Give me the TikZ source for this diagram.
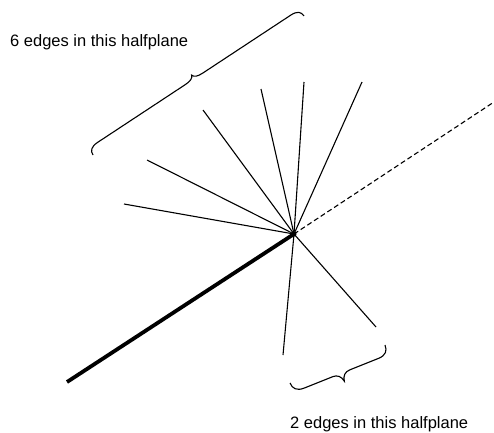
\documentclass[tikz,border=0pt]{standalone}
\usepackage{fontspec}
\setmainfont{Liberation Sans}
\begin{document}
\begin{tikzpicture}[x=1pt,y=1pt,
  edge/.style={line width=1.1pt},
  thickedge/.style={line width=3.8pt},
  dashedge/.style={line width=1.1pt, dash pattern=on 5pt off 3pt},
  bracepath/.style={line width=1.1pt},
  label/.style={font=\fontsize{16.5}{19}\selectfont, inner sep=0pt, anchor=base west}]
\useasboundingbox (0,0) rectangle (494,-432);
\node[circle, fill, inner sep=0pt, minimum size=5pt] (v) at (294,-234) {};
% upper halfplane edges
\coordinate (e1) at (124,-204);
\coordinate (e2) at (147,-160);
\coordinate (e3) at (203,-110);
\coordinate (e4) at (261,-89);
\coordinate (e5) at (304,-82);
\coordinate (e6) at (362,-82);
% lower halfplane edges
\coordinate (l1) at (283,-355);
\coordinate (l2) at (376,-327);
% thick and dashed
\coordinate (t) at (67,-382);
\coordinate (d) at (494,-102);
\foreach \p in {e1,e2,e3,e4,e5,e6,l1,l2} \draw[edge] (v.center) -- (\p);
\draw[thickedge] (t) -- (v.center);
\draw[dashedge] (v.center) -- (d);
% top brace
\begin{scope}[shift={(93,-155)}, rotate=33.38]
\draw[bracepath] (0,0) .. controls (0,5) and (3,8) .. (11,8) -- (116,8)
  .. controls (122,8) and (125.5,9.5) .. (126.3,12.5)
  .. controls (127,9.5) and (130.5,8) .. (137,8) -- (242,8)
  .. controls (250,8) and (252.7,5) .. (252.7,0);
\end{scope}
% bottom brace
\begin{scope}[shift={(385,-345)}, rotate=201.8]
\draw[bracepath] (0,0) .. controls (0,6) and (3,10) .. (11,10) -- (42,10)
  .. controls (47,10) and (50.5,13) .. (51.2,18.5)
  .. controls (52,13) and (55.5,10) .. (60,10) -- (91,10)
  .. controls (99,10) and (102.3,6) .. (102.3,0);
\end{scope}
\node[label] (top) at (10,-46) {6 edges in this halfplane};
\node[label] (bot) at (290,-428) {2 edges in this halfplane};
\end{tikzpicture}
\end{document}
